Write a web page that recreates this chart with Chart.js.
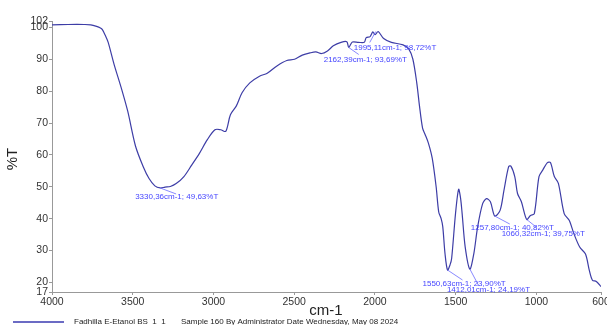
<!DOCTYPE html>
<html>
<head>
<meta charset="utf-8">
<script src="https://cdn.jsdelivr.net/npm/chart.js@4"></script>
<style>
  body { margin: 0; background: #fff; }
  canvas { display: block; }
</style>
</head>
<body>
<canvas id="grafico-ir" width="607" height="325"></canvas>
<script>
// Espectro FTIR (cm-1 decrescente)
const numeroOnda = [
  4000, 3900, 3800, 3760, 3724, 3700, 3688, 3670, 3652, 3616, 3568, 3531, 3483, 3435, 3399, 3363,
  3330.36, 3300, 3267, 3231, 3183, 3135, 3087, 3039, 2991, 2955, 2924, 2895, 2859, 2823, 2775,
  2715, 2667, 2607, 2546, 2498, 2450, 2402, 2366, 2330, 2294, 2258, 2210, 2174, 2162.39, 2140,
  2102, 2066, 2054, 2030, 2013, 1999, 1980, 1946, 1898, 1826, 1790, 1765, 1741, 1724, 1705,
  1690, 1669, 1645, 1621, 1605, 1590, 1580, 1566, 1550.63, 1535, 1525, 1501, 1482, 1470, 1460,
  1441, 1412.01, 1388, 1364, 1333, 1309, 1285, 1257.8, 1225, 1201, 1172, 1158, 1134, 1117,
  1093, 1060.32, 1037, 1013, 984, 960, 932, 913, 889, 864, 828, 797, 768, 732, 696, 672, 653,
  629, 600
];
const transmitancia = [
  100.8, 100.9, 100.9, 100.8, 100.3, 99.8, 99.3, 97.5, 95.3, 88.5, 80.5, 73.7, 62.8, 56.3, 52.6, 50.3,
  49.63, 49.9, 50.1, 51.0, 53.2, 56.8, 60.5, 64.7, 67.9, 67.9, 67.4, 72.6, 75.3, 79.5, 82.6,
  84.7, 85.6, 87.9, 89.6, 90.0, 91.3, 92.0, 92.3, 91.8, 92.6, 94.2, 95.3, 95.5, 93.69, 95.4,
  95.3, 95.3, 96.8, 97.1, 98.6, 97.7, 98.7, 96.5, 95.3, 94.5, 93.2, 90.0, 82.6, 75.3, 68.4,
  66.5, 63.7, 58.9, 50.0, 42.1, 40.0, 37.5, 29.0, 23.9, 25.5, 27.5, 41.6, 49.2, 46.5, 41.6,
  31.1, 24.19, 28.9, 37.4, 44.7, 46.3, 45.3, 40.82, 42.6, 48.9, 56.3, 56.5, 53.2, 47.9,
  45.3, 39.75, 41.0, 41.6, 53.2, 55.3, 57.6, 57.6, 53.2, 51.1, 41.6, 39.5, 35.3, 31.1, 28.9, 23.7, 20.7,
  20.3, 18.7
];

// Picos marcados na figura
const picosOnda = [3330.36, 1995.11, 2162.39, 1550.63, 1412.01, 1257.80, 1060.32];
const picosT    = [49.63, 98.72, 93.69, 23.90, 24.19, 40.82, 39.75];
const picosTexto = [
  '3330,36cm-1; 49,63%T',
  '1995,11cm-1; 98,72%T',
  '2162,39cm-1; 93,69%T',
  '1550,63cm-1; 23,90%T',
  '1412,01cm-1; 24,19%T',
  '1257,80cm-1; 40,82%T',
  '1060,32cm-1; 39,75%T'
];

// Ticks dos eixos
const ticksX = [4000, 3500, 3000, 2500, 2000, 1500, 1000, 600];
const ticksY = [17, 20, 30, 40, 50, 60, 70, 80, 90, 100, 102];

// deslocamento (px) do rótulo: [linhaX, linhaY, textoX, textoY]
const deslocRotulo = [
  [16, 6, -25, 9],
  [-6, 11, -22, 16.5],
  [10, 7, -25, 12.6],
  [15, 10, -25, 14],
  [9, 17, -23, 21],
  [15, 8, -24, 12],
  [10, 8, -25, 14.5]
];

const FONTE = "'Liberation Sans', Arial, sans-serif";

// Plugin que desenha rótulos dos picos, títulos dos eixos e legenda inferior
const extras = {
  id: 'extras',
  afterDraw(chart) {
    const ctx = chart.ctx;
    const sx = chart.scales.x, sy = chart.scales.y;
    ctx.save();

    // rótulos dos picos
    ctx.font = '8px ' + FONTE;
    ctx.textBaseline = 'middle';
    ctx.textAlign = 'left';
    picosOnda.forEach((w, i) => {
      const px = sx.getPixelForValue(w);
      const py = sy.getPixelForValue(picosT[i]);
      const d = deslocRotulo[i];
      ctx.strokeStyle = '#6a6aff';
      ctx.lineWidth = 0.8;
      ctx.beginPath();
      ctx.moveTo(px, py);
      ctx.lineTo(px + d[0], py + d[1]);
      ctx.stroke();
      ctx.fillStyle = '#4646ff';
      ctx.fillText(picosTexto[i], px + d[2], py + d[3]);
    });

    // título eixo Y
    ctx.fillStyle = '#222';
    ctx.font = '15px ' + FONTE;
    ctx.textAlign = 'center';
    ctx.save();
    ctx.translate(13, 159);
    ctx.rotate(-Math.PI / 2);
    ctx.fillText('%T', 0, 0);
    ctx.restore();

    // título eixo X
    ctx.fillText('cm-1', 326, 311);

    // legenda
    ctx.strokeStyle = '#3a3ab0';
    ctx.lineWidth = 1.5;
    ctx.beginPath();
    ctx.moveTo(13, 322);
    ctx.lineTo(64, 322);
    ctx.stroke();
    ctx.font = '8px ' + FONTE;
    ctx.textAlign = 'left';
    ctx.fillStyle = '#222';
    ctx.fillText('Fadhilla E-Etanol BS  1  1', 74, 322);
    ctx.fillText('Sample 160 By Administrator Date Wednesday, May 08 2024', 181, 322);

    ctx.restore();
  }
};

new Chart(document.getElementById('grafico-ir'), {
  type: 'line',
  data: {
    datasets: [{
      data: numeroOnda.map((w, i) => ({ x: w, y: transmitancia[i] })),
      borderColor: '#3d3da6',
      borderWidth: 1.2,
      pointRadius: 0,
      tension: 0.3,
      fill: false
    }]
  },
  options: {
    responsive: false,
    animation: false,
    layout: { padding: { top: 21, right: 6, left: 0, bottom: 0 } },
    plugins: { legend: { display: false }, tooltip: { enabled: false } },
    scales: {
      x: {
        type: 'linear',
        reverse: true,
        min: 600,
        max: 4000,
        afterBuildTicks: s => { s.ticks = ticksX.map(v => ({ value: v })); },
        afterFit: s => { s.height = 33; s.paddingLeft = 0; s.paddingRight = 0; },
        ticks: {
          autoSkip: false, maxRotation: 0, padding: 1, color: '#333',
          font: { size: 10.5, family: FONTE },
          callback: v => String(v)
        },
        grid: { drawOnChartArea: false, tickLength: 3, color: '#999' },
        border: { color: '#999' }
      },
      y: {
        min: 17,
        max: 102,
        afterBuildTicks: s => { s.ticks = ticksY.map(v => ({ value: v })); },
        afterFit: s => { s.width = 52; s.paddingTop = 0; s.paddingBottom = 0; },
        ticks: {
          autoSkip: false, padding: 1, color: '#333',
          font: { size: 10.5, family: FONTE },
          callback: v => String(v)
        },
        grid: { drawOnChartArea: false, tickLength: 3, color: '#999' },
        border: { color: '#999' }
      }
    }
  },
  plugins: [extras]
});
</script>
</body>
</html>
